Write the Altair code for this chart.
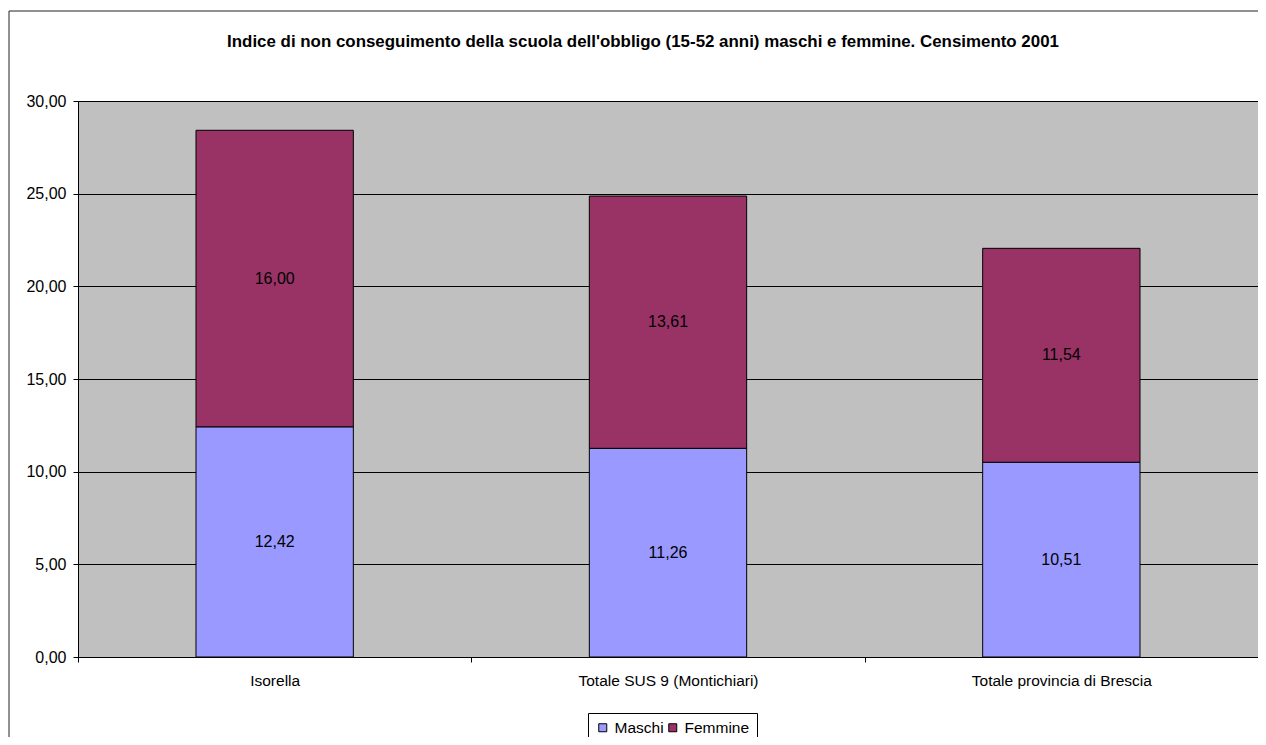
import altair as alt
import pandas as pd

categories = ["Isorella", "Totale SUS 9 (Montichiari)", "Totale provincia di Brescia"]
series = ["Maschi", "Femmine"]
maschi = [12.42, 11.26, 10.51]
femmine = [16.00, 13.61, 11.54]
colors = ["#9999FF", "#993366"]
title_text = "Indice di non conseguimento della scuola dell'obbligo (15-52 anni) maschi e femmine. Censimento 2001"

rows = []
for i, c in enumerate(categories):
    rows.append({"cat": c, "serie": "Maschi", "val": maschi[i], "ord": 0})
    rows.append({"cat": c, "serie": "Femmine", "val": femmine[i], "ord": 1})
df = pd.DataFrame(rows)

FONT = "Liberation Sans"
PW, PH = 1180, 556

x_enc = alt.X("cat:N", sort=categories, title=None,
              scale=alt.Scale(paddingInner=0, paddingOuter=0),
              axis=alt.Axis(tickBand="extent", labelAngle=0, labelFontSize=15.5,
                            labelFont=FONT, labelColor="black", labelPadding=11,
                            labelLimit=0,
                            tickSize=5, tickColor="#000000", domainColor="#000000",
                            grid=False))
y_enc = alt.Y("val:Q", stack="zero", title=None,
              scale=alt.Scale(domain=[0, 30], nice=False),
              axis=alt.Axis(values=[0, 5, 10, 15, 20, 25, 30],
                            labelExpr="replace(format(datum.value, '.2f'), '.', ',')",
                            labelFontSize=16, labelFont=FONT, labelColor="black",
                            labelPadding=7, tickSize=5, tickColor="#000000",
                            domainColor="#000000", grid=True, gridColor="#000000",
                            gridOpacity=1, gridWidth=1))

base = alt.Chart(df)

bars = base.mark_bar(width={"band": 0.4}, stroke="black", strokeWidth=1).encode(
    x=x_enc,
    y=y_enc,
    color=alt.Color("serie:N", sort=series,
                    scale=alt.Scale(domain=series, range=colors),
                    legend=alt.Legend(title=None, orient="none", direction="horizontal",
                                      legendX=510, legendY=612,
                                      symbolType="square", symbolSize=64,
                                      symbolStrokeColor="black", symbolStrokeWidth=1,
                                      labelFontSize=15.5, labelFont=FONT, labelColor="black",
                                      strokeColor="black", padding=7, columnPadding=1,
                                      gridAlign="none",
                                      symbolOffset=0, labelOffset=4)),
    order=alt.Order("ord:Q"),
)

labels = base.transform_stack(
    stack="val", groupby=["cat"], as_=["v0", "v1"],
    sort=[alt.SortField("ord", order="ascending")]
).transform_calculate(
    mid="(datum.v0 + datum.v1) / 2",
    lab="replace(format(datum.val, '.2f'), '.', ',')"
).mark_text(fontSize=16, font=FONT, color="black").encode(
    x=alt.X("cat:N", sort=categories),
    y=alt.Y("mid:Q"),
    text="lab:N",
)

frame = alt.Chart(pd.DataFrame({"a": [0]})).mark_rect(
    fill="transparent", stroke="#222222", strokeWidth=1, clip=False
).encode(
    x=alt.value(-69), x2=alt.value(1300), y=alt.value(-90), y2=alt.value(760)
)

title = alt.Chart(pd.DataFrame({"t": [title_text]})).mark_text(
    fontSize=16.9, font=FONT, fontWeight="bold", color="black",
    align="center", baseline="alphabetic", clip=False
).encode(
    x=alt.value(565), y=alt.value(-54), text="t:N"
)

chart = alt.layer(frame, bars, labels, title).properties(
    width=PW, height=PH,
    padding={"left": 70, "top": 93, "right": 0, "bottom": 80},
    autosize=alt.AutoSizeParams(type="none"),
    background="white",
).configure_view(
    fill="#C0C0C0", stroke="#808080", strokeWidth=1
)

chart.save("out.html", embed_options={"renderer": "svg", "actions": False})
